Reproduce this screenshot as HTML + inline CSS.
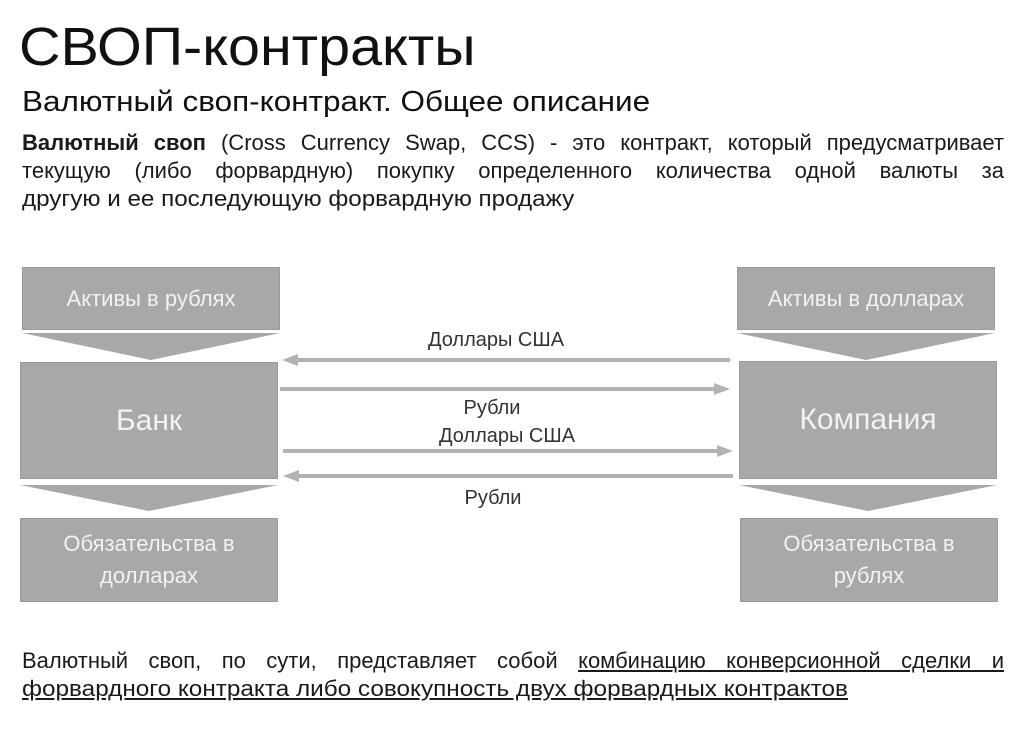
<!DOCTYPE html>
<html><head><meta charset="utf-8"><style>
body{margin:0;width:1024px;height:740px;background:#fff;position:relative;overflow:hidden;font-family:"Liberation Sans","DejaVu Sans",sans-serif;color:#1a1a1a}
.a{position:absolute;white-space:nowrap;transform-origin:0 0}
.j{position:absolute;left:22px;width:982px;text-align:justify;text-align-last:justify;white-space:nowrap;font-size:22px}
.box{position:absolute;background:#a8a8a8;border:1px solid #9a9a9a;color:#f2f2f2;display:flex;align-items:center;justify-content:center;text-align:center;box-sizing:border-box}
.lbl{position:absolute;font-size:20px;color:#333;transform:translateX(-50%);white-space:nowrap}
</style></head><body>
<div class="a" style="left:19px;top:16px;font-size:54px;color:#111;transform:scaleX(1.065)">СВОП-контракты</div>
<div class="a" style="left:22px;top:86px;font-size:29px;color:#111;transform:scaleX(1.085)">Валютный своп-контракт. Общее описание</div>
<div class="j" style="top:130px"><b>Валютный своп</b> (Cross Currency Swap, CCS) - это контракт, который предусматривает</div>
<div class="j" style="top:158px">текущую (либо форвардную) покупку определенного количества одной валюты за</div>
<div class="a" style="left:22px;top:186px;font-size:22px;transform:scaleX(1.1)">другую и ее последующую форвардную продажу</div>

<div class="box" style="left:22px;top:267px;width:258px;height:63px;font-size:22px">Активы в рублях</div>
<div class="box" style="left:20px;top:362px;width:258px;height:117px;font-size:30px">Банк</div>
<div class="box" style="left:20px;top:518px;width:258px;height:84px;font-size:22px;line-height:32px">Обязательства в<br>долларах</div>
<div class="box" style="left:737px;top:267px;width:258px;height:63px;font-size:22px">Активы в долларах</div>
<div class="box" style="left:739px;top:361px;width:258px;height:118px;font-size:30px">Компания</div>
<div class="box" style="left:740px;top:518px;width:258px;height:84px;font-size:22px;line-height:32px">Обязательства в<br>рублях</div>

<svg class="a" style="left:0;top:0" width="1024" height="740">
<g fill="#a8a8a8">
<polygon points="22,333 280,333 151,360"/>
<polygon points="20,485 278,485 149,511"/>
<polygon points="737,333 995,333 866,360"/>
<polygon points="739,485 997,485 868,511"/>
</g>
<g stroke="#b3b3b3" stroke-width="4" fill="#b3b3b3">
<line x1="730" y1="360" x2="296" y2="360"/><polygon stroke="none" points="282,360 298,354 298,366"/>
<line x1="280" y1="389" x2="716" y2="389"/><polygon stroke="none" points="730,389 714,383 714,395"/>
<line x1="283" y1="451" x2="719" y2="451"/><polygon stroke="none" points="733,451 717,445 717,457"/>
<line x1="733" y1="476" x2="297" y2="476"/><polygon stroke="none" points="283,476 299,470 299,482"/>
</g>
</svg>
<div class="lbl" style="left:496px;top:329px">Доллары США</div>
<div class="lbl" style="left:492px;top:397px">Рубли</div>
<div class="lbl" style="left:507px;top:425px">Доллары США</div>
<div class="lbl" style="left:493px;top:487px">Рубли</div>

<div class="j" style="top:648px">Валютный своп, по сути, представляет собой <u>комбинацию конверсионной сделки и</u></div>
<div class="a" style="left:22px;top:676px;font-size:22px;transform:scaleX(1.105)"><u>форвардного контракта либо совокупность двух форвардных контрактов</u></div>
</body></html>
